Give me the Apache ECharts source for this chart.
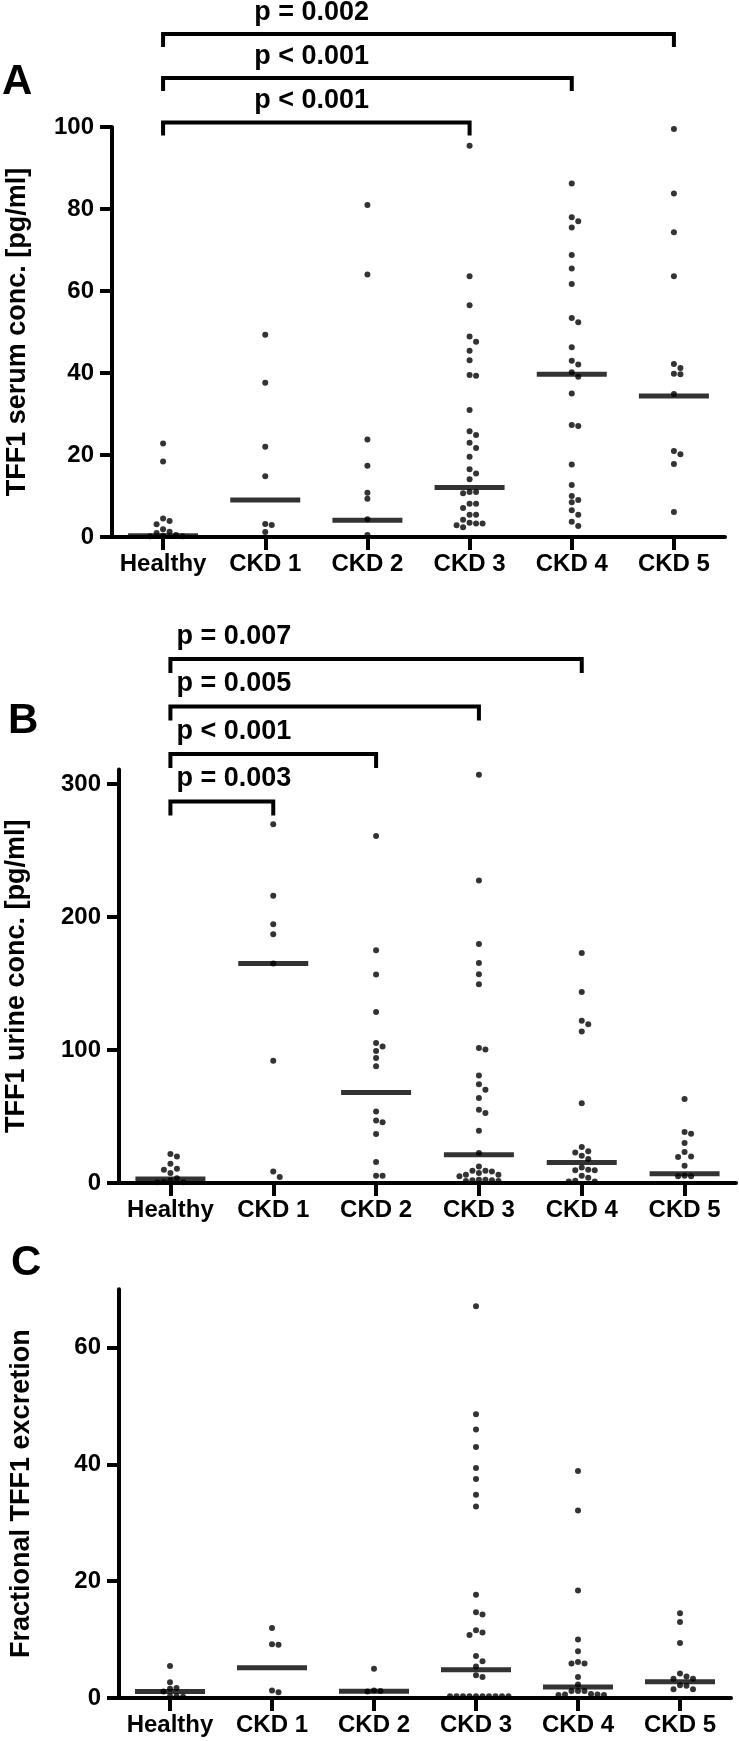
<!DOCTYPE html>
<html>
<head>
<meta charset="utf-8">
<script src="https://cdn.jsdelivr.net/npm/echarts@6/dist/echarts.min.js"></script>
<style>
html,body{margin:0;padding:0;background:#fff;}
#chart{width:739px;height:1741px;}
</style>
</head>
<body>
<div id="chart"></div>
<script>
// ---------- categories ----------
const categories = ['Healthy', 'CKD 1', 'CKD 2', 'CKD 3', 'CKD 4', 'CKD 5'];

// ---------- Panel A: TFF1 serum conc. [pg/ml] ----------
const serumHealthy = [22.8, 18.4, 4.5, 3.9, 3.1, 1.9, 1.3, 1.0, 0.5, 0.3, 0.2, 0.2];
const serumCKD1 = [49.3, 37.6, 22.0, 14.8, 3.2, 2.9, 1.2];
const serumCKD2 = [81.0, 64.0, 23.8, 17.4, 10.8, 9.3, 4.3, 0.5];
const serumCKD3 = [95.4, 63.6, 56.5, 48.9, 47.6, 45.4, 43.1, 39.5, 39.3, 31.0, 25.8, 24.9, 23.0, 21.7, 19.6, 16.5, 15.5, 14.1, 11.0, 10.7, 11.0, 8.1, 8.1, 7.1, 5.4, 5.4, 4.2, 3.5, 3.3, 3.3, 2.85, 2.4];
const serumCKD4 = [86.2, 78.0, 77.0, 75.5, 68.8, 65.5, 61.7, 53.4, 52.4, 46.3, 43.0, 42.1, 40.2, 39.1, 35.0, 27.3, 27.1, 17.7, 12.7, 10.0, 9.0, 8.5, 6.5, 5.4, 3.7, 2.7];
const serumCKD5 = [99.5, 83.8, 74.3, 63.6, 42.2, 41.2, 39.8, 39.7, 34.9, 21.0, 20.2, 17.8, 6.1];
const serumMedians = [0.3, 9.0, 4.1, 12.1, 39.7, 34.4];
const serumTicks = [0, 20, 40, 60, 80, 100];

// ---------- Panel B: TFF1 urine conc. [pg/ml] ----------
const urineHealthy = [21.8, 20, 14.5, 10.7, 10, 7.5, 3.5, 2, 1, 0.5, 0.5];
const urineCKD1 = [269.7, 216, 194.5, 187, 165, 92, 8.7, 4.5];
const urineCKD2 = [261, 175, 156.7, 128.6, 105.3, 102.7, 99.2, 94, 87.7, 53.8, 47, 45.6, 36.8, 15.8, 5.5, 5.5];
const urineCKD3 = [307, 227.5, 179.7, 165.5, 157, 149.4, 101.5, 100.3, 80.9, 74.2, 70.2, 63.9, 55.1, 52.6, 39.3, 22.5, 12.5, 9.2, 9.2, 8.7, 7.5, 6.2, 6.2, 5.0, 2.5, 2.0, 1.5, 1.5, 2.0, 2.5];
const urineCKD4 = [173, 143.6, 122, 119.3, 114, 59.9, 27, 23.8, 23, 20.5, 18, 11.7, 10, 9.5, 9.5, 5.5, 4, 1.7, 1.2, 1.2];
const urineCKD5 = [63.1, 38.3, 37, 30, 23.3, 20, 19.5, 13, 5.5, 5, 5];
const urineMedians = [3.0, 165, 68.1, 21.3, 15.5, 7.0];
const urineTicks = [0, 100, 200, 300];

// ---------- Panel C: Fractional TFF1 excretion ----------
const fracHealthy = [5.5, 2.7, 1.7, 1.6, 1.1, 0.3, 0.3, 0.2];
const fracCKD1 = [12.0, 9.2, 9.1, 1.3, 1.0];
const fracCKD2 = [5.0, 1.3, 1.2, 1.1];
const fracCKD3 = [67.1, 48.6, 46.0, 43.0, 39.4, 37.5, 34.8, 32.8, 17.7, 14.7, 14.3, 11.6, 11.2, 10.8, 7.2, 6.3, 5.4, 3.9, 3.6, 0.3, 0.3, 0.3, 0.3, 0.3, 0.3, 0.3, 0.3, 0.3, 0.3];
const fracCKD4 = [38.9, 32.1, 18.4, 10.0, 8.0, 6.15, 5.9, 5.9, 3.6, 2.3, 1.2, 1.2, 1.2, 0.7, 0.6, 0.5, 0.5, 0.6];
const fracCKD5 = [14.5, 13.0, 9.4, 4.2, 3.7, 3.3, 3.3, 2.2, 2.1, 1.5, 1.5];
const fracMedians = [1.1, 5.2, 1.15, 4.85, 1.9, 2.8];
const fracTicks = [0, 20, 40, 60];

// ---------- annotations ----------
const pTextsA = ['p = 0.002', 'p < 0.001', 'p < 0.001'];
const pEndsA = [5, 4, 3];
const pTextsB = ['p = 0.007', 'p = 0.005', 'p < 0.001', 'p = 0.003'];
const pEndsB = [4, 3, 2, 1];
const panelLetters = ['A', 'B', 'C'];
const axisNames = ['TFF1 serum conc. [pg/ml]', 'TFF1 urine conc. [pg/ml]', 'Fractional TFF1 excretion'];

// ---------- layout ----------
const FONT = '"Liberation Sans", Arial, sans-serif';
const LW = 4;
const panels = [
  { groups: [serumHealthy, serumCKD1, serumCKD2, serumCKD3, serumCKD4, serumCKD5], medians: serumMedians, ticks: serumTicks, max: 100,
    grid: { left: 112, top: 127, width: 613, height: 410 }, nameGap: 81 },
  { groups: [urineHealthy, urineCKD1, urineCKD2, urineCKD3, urineCKD4, urineCKD5], medians: urineMedians, ticks: urineTicks, max: 311,
    grid: { left: 119, top: 769.4, width: 617, height: 413.6 }, nameGap: 89 },
  { groups: [fracHealthy, fracCKD1, fracCKD2, fracCKD3, fracCKD4, fracCKD5], medians: fracMedians, ticks: fracTicks, max: 70,
    grid: { left: 119, top: 1289.3, width: 612, height: 408.7 }, nameGap: 84 }
];

// beeswarm: spread coincident dots sideways (pixel offsets computed from values)
function swarm(values, pxPerUnit) {
  const step = 6.5, minDist = 6;
  const order = values.map((v, i) => i).sort((a, b) => values[b] - values[a]);
  const placed = [];
  const off = new Array(values.length).fill(0);
  for (const i of order) {
    const y = values[i] * pxPerUnit;
    for (let k = 0; k < 40; k++) {
      const dx = k === 0 ? 0 : (k % 2 ? 1 : -1) * Math.ceil(k / 2) * step;
      if (placed.every(p => Math.hypot(p.x - dx, p.y - y) >= minDist)) {
        placed.push({ x: dx, y: y });
        off[i] = dx;
        break;
      }
    }
  }
  return off;
}

const grids = [], xAxes = [], yAxes = [], series = [];
panels.forEach((p, pi) => {
  grids.push(Object.assign({ containLabel: false, outerBoundsMode: 'none' }, p.grid));
  xAxes.push({
    type: 'category', gridIndex: pi, data: categories, boundaryGap: true,
    axisLine: { show: true, lineStyle: { color: '#000', width: LW } },
    axisTick: { show: true, alignWithLabel: true, length: 13, lineStyle: { color: '#000', width: LW } },
    axisLabel: { show: true, interval: 0, hideOverlap: false, color: '#000', fontSize: 24, fontWeight: 'bold', fontFamily: FONT, margin: 15 },
    splitLine: { show: false }
  });
  yAxes.push({
    type: 'value', gridIndex: pi, min: 0, max: p.max,
    name: axisNames[pi], nameLocation: 'middle', nameRotate: 90, nameGap: p.nameGap,
    nameTextStyle: { color: '#000', fontSize: 27, fontWeight: 'bold', fontFamily: FONT },
    axisLine: { show: true, onZero: false, lineStyle: { color: '#000', width: LW } },
    axisTick: { show: true, length: 12, customValues: p.ticks, lineStyle: { color: '#000', width: LW } },
    axisLabel: { show: true, color: '#000', fontSize: 24, fontWeight: 'bold', fontFamily: FONT, margin: 18, customValues: p.ticks },
    splitLine: { show: false }
  });
  const pxPerUnit = p.grid.height / p.max;
  const data = [];
  p.groups.forEach((vals, ci) => {
    const offs = swarm(vals, pxPerUnit);
    vals.forEach((v, k) => data.push({ value: [ci, v], symbolOffset: [offs[k], 0] }));
  });
  series.push({
    type: 'scatter', xAxisIndex: pi, yAxisIndex: pi, data: data,
    symbol: 'circle', symbolSize: 6, itemStyle: { color: '#000' }, silent: true, z: 3
  });
  series.push({
    type: 'scatter', xAxisIndex: pi, yAxisIndex: pi,
    data: p.medians.map((m, ci) => [ci, m]),
    symbol: 'rect', symbolSize: [70, 5], itemStyle: { color: '#000' }, silent: true, z: 4
  });
});

const chart = echarts.init(document.getElementById('chart'), null, { renderer: 'canvas', width: 739, height: 1741 });
chart.setOption({
  animation: false,
  backgroundColor: '#fff',
  grid: grids, xAxis: xAxes, yAxis: yAxes, series: series
});

// ---------- brackets, p-values, panel letters ----------
function xOf(pi, ci) { return chart.convertToPixel({ xAxisIndex: pi }, ci); }
const graphics = [];
function bracket(pi, endCat, lineY, drop, text, textX, textY) {
  const x0 = xOf(pi, 0), x1 = xOf(pi, endCat);
  graphics.push({
    type: 'polyline', silent: true,
    shape: { points: [[x0, lineY + drop], [x0, lineY], [x1, lineY], [x1, lineY + drop]] },
    style: { stroke: '#000', lineWidth: LW, fill: null, lineJoin: 'miter' }
  });
  graphics.push({
    type: 'text', silent: true,
    style: { text: text, x: textX, y: textY, fill: '#000', font: 'bold 27px ' + FONT, textAlign: 'left', textVerticalAlign: 'middle' }
  });
}
const gA = panels[0].grid, gB = panels[1].grid;
const aLineOffsets = [-93, -49, -4.5];
pTextsA.forEach((t, i) => {
  const ly = gA.top + aLineOffsets[i];
  bracket(0, pEndsA[i], ly, 13, t, xOf(0, 1) - 11, ly - 21.5);
});
const bLineOffsets = [-110.4, -63, -15.4, 32];
pTextsB.forEach((t, i) => {
  const ly = gB.top + bLineOffsets[i];
  bracket(1, pEndsB[i], ly, 14, t, xOf(1, 0) + 6, ly - 22.5);
});
const letterPos = [[2, 82], [8, 721], [11, 1263]];
panelLetters.forEach((L, i) => {
  graphics.push({
    type: 'text', silent: true,
    style: { text: L, x: letterPos[i][0], y: letterPos[i][1], fill: '#000', font: 'bold 42px ' + FONT, textAlign: 'left', textVerticalAlign: 'middle' }
  });
});
chart.setOption({ graphic: graphics });
</script>
</body>
</html>
